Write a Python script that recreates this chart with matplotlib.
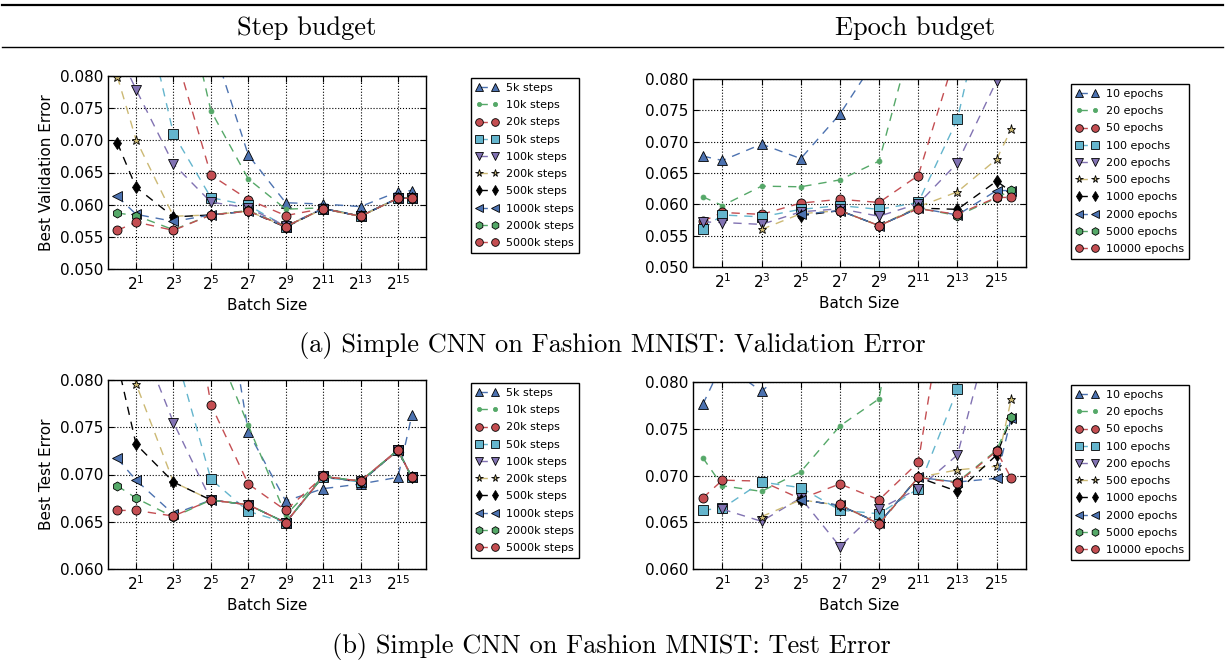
import numpy as np
import matplotlib
matplotlib.use('Agg')
import matplotlib.pyplot as plt
from matplotlib.lines import Line2D
from matplotlib.ticker import FixedLocator, LogFormatterMathtext, NullLocator, MultipleLocator, FormatStrFormatter

nan = np.nan

batch = [1, 2, 8, 32, 128, 512, 2048, 8192, 32768, 55000]

step_labels = ['5k steps', '10k steps', '20k steps', '50k steps', '100k steps',
               '200k steps', '500k steps', '1000k steps', '2000k steps', '5000k steps']
epoch_labels = ['10 epochs', '20 epochs', '50 epochs', '100 epochs', '200 epochs',
                '500 epochs', '1000 epochs', '2000 epochs', '5000 epochs', '10000 epochs']

# validation error, step budget
val_step = [
    [0.140, 0.120, 0.100, 0.0858, 0.0677, 0.0603, 0.0601, 0.0597, 0.0620, 0.0622],
    [0.125, 0.110, 0.100, 0.0746, 0.0640, 0.0593, 0.0595, 0.0582, 0.0610, 0.0611],
    [0.110, 0.095, 0.0846, 0.0646, 0.0608, 0.0583, 0.0594, 0.0582, 0.0610, 0.0610],
    [0.105, 0.096, 0.0710, 0.0611, 0.0599, 0.0566, 0.0594, 0.0583, 0.0610, 0.0611],
    [0.084, 0.0779, 0.0663, 0.0604, 0.0595, 0.0567, 0.0594, 0.0582, 0.0610, 0.0611],
    [0.0799, 0.0701, 0.0582, 0.0584, 0.0590, 0.0566, 0.0593, 0.0582, 0.0610, 0.0611],
    [0.0696, 0.0627, 0.0581, 0.0584, 0.0590, 0.0565, 0.0594, 0.0582, 0.0610, 0.0611],
    [0.0613, 0.0585, 0.0574, 0.0584, 0.0590, 0.0566, 0.0594, 0.0582, 0.0610, 0.0611],
    [0.0587, 0.0583, 0.0561, 0.0584, 0.0591, 0.0566, 0.0594, 0.0582, 0.0610, 0.0611],
    [0.0560, 0.0573, 0.0560, 0.0584, 0.0590, 0.0566, 0.0594, 0.0582, 0.0610, 0.0610],
]

# validation error, epoch budget
val_epoch = [
    [0.0677, 0.0670, 0.0696, 0.0673, 0.0744, 0.0840, 0.095, 0.105, 0.115, 0.120],
    [0.0612, 0.0598, 0.0629, 0.0628, 0.0639, 0.0669, 0.0902, 0.100, 0.110, 0.115],
    [0.0573, 0.0587, 0.0584, 0.0602, 0.0608, 0.0603, 0.0646, 0.0849, 0.095, 0.100],
    [0.0561, 0.0583, 0.0580, 0.0592, 0.0598, 0.0592, 0.0603, 0.0736, 0.101, 0.105],
    [0.0572, 0.0571, 0.0568, 0.0588, 0.0593, 0.0581, 0.0601, 0.0666, 0.0797, 0.090],
    [nan, nan, 0.0560, 0.0585, 0.0590, 0.0566, 0.0596, 0.0620, 0.0672, 0.0720],
    [nan, nan, nan, 0.0582, 0.0590, 0.0566, 0.0594, 0.0592, 0.0637, 0.0620],
    [nan, nan, nan, 0.0584, 0.0590, 0.0566, 0.0594, 0.0583, 0.0622, 0.0622],
    [nan, nan, nan, nan, 0.0590, 0.0566, 0.0594, 0.0582, 0.0610, 0.0623],
    [nan, nan, nan, nan, 0.0590, 0.0566, 0.0593, 0.0584, 0.0611, 0.0611],
]

# test error, step budget
test_step = [
    [0.140, 0.125, 0.110, 0.0984, 0.0745, 0.0672, 0.0685, 0.0690, 0.0697, 0.0763],
    [0.130, 0.115, 0.100, 0.0848, 0.0752, 0.0657, 0.0698, 0.0693, 0.0726, 0.0696],
    [0.120, 0.110, 0.101, 0.0774, 0.0690, 0.0662, 0.0698, 0.0693, 0.0725, 0.0697],
    [0.110, 0.100, 0.0837, 0.0695, 0.0661, 0.0649, 0.0697, 0.0692, 0.0726, 0.0697],
    [0.095, 0.0855, 0.0755, 0.0673, 0.0668, 0.0649, 0.0698, 0.0693, 0.0726, 0.0697],
    [0.085, 0.0796, 0.0692, 0.0673, 0.0668, 0.0649, 0.0698, 0.0693, 0.0726, 0.0697],
    [0.0819, 0.0732, 0.0692, 0.0673, 0.0668, 0.0649, 0.0698, 0.0692, 0.0726, 0.0697],
    [0.0717, 0.0694, 0.0658, 0.0673, 0.0668, 0.0649, 0.0698, 0.0692, 0.0726, 0.0697],
    [0.0688, 0.0675, 0.0655, 0.0673, 0.0668, 0.0649, 0.0698, 0.0693, 0.0726, 0.0697],
    [0.0662, 0.0662, 0.0656, 0.0673, 0.0668, 0.0649, 0.0698, 0.0693, 0.0726, 0.0697],
]

# test error, epoch budget
test_epoch = [
    [0.0776, 0.0820, 0.0790, 0.0826, 0.090, 0.095, 0.100, 0.105, 0.110, 0.115],
    [0.0719, 0.0689, 0.0683, 0.0704, 0.0753, 0.0782, 0.1016, 0.105, 0.110, 0.115],
    [0.0676, 0.0695, 0.0694, 0.0675, 0.0691, 0.0674, 0.0714, 0.0975, 0.105, 0.110],
    [0.0663, 0.0665, 0.0693, 0.0687, 0.0663, 0.0659, 0.0686, 0.0792, 0.095, 0.100],
    [nan, 0.0664, 0.0651, 0.0676, 0.0624, 0.0664, 0.0686, 0.0722, 0.0881, 0.095],
    [nan, nan, 0.0656, 0.0674, 0.0668, 0.0649, 0.0698, 0.0706, 0.0710, 0.0782],
    [nan, nan, nan, 0.0674, 0.0668, 0.0649, 0.0698, 0.0683, 0.0722, 0.0762],
    [nan, nan, nan, 0.0674, 0.0668, 0.0649, 0.0698, 0.0693, 0.0697, 0.0762],
    [nan, nan, nan, nan, 0.0669, 0.0648, 0.0698, 0.0693, 0.0727, 0.0763],
    [nan, nan, nan, nan, 0.0669, 0.0648, 0.0698, 0.0692, 0.0726, 0.0697],
]

colors = ['#4C72B0', '#55A868', '#C44E52', '#64B5CD', '#8172B2',
          '#CCB974', 'k', '#4C72B0', '#55A868', '#C44E52']
markers = ['^', '.', 'o', 's', 'v', '*', 'd', '<', 'h', 'o']

plt.rcParams['font.family'] = 'DejaVu Sans'
plt.rcParams['font.size'] = 11
plt.rcParams['xtick.direction'] = 'in'
plt.rcParams['ytick.direction'] = 'in'
plt.rcParams['xtick.top'] = True
plt.rcParams['ytick.right'] = True

fig = plt.figure(figsize=(12.25, 6.62), dpi=100)


def panel(rect, rows, labels, ylim, ylabel, leg_xy):
    ax = fig.add_axes(rect)
    for row, lab, c, m in zip(rows, labels, colors, markers):
        mec = c if m == '.' else 'k'
        ax.plot(batch, row, ls='--', dashes=(6, 5), lw=1, color=c, marker=m,
                mfc=c, mec=mec, mew=0.6, ms=6.5 if m != '.' else 7, label=lab)
    ax.set_xscale('log', base=2)
    ax.set_xlim(2 ** -0.5, 2 ** 16.5)
    ax.set_ylim(*ylim)
    ax.xaxis.set_major_locator(FixedLocator([2 ** k for k in range(1, 16, 2)]))
    ax.xaxis.set_major_formatter(LogFormatterMathtext(base=2))
    ax.xaxis.set_minor_locator(NullLocator())
    ax.yaxis.set_major_locator(MultipleLocator(0.005))
    ax.yaxis.set_major_formatter(FormatStrFormatter('%.3f'))
    ax.tick_params(labelsize=11, length=4)
    ax.grid(True, color='k', ls=':', lw=0.8)
    ax.set_xlabel('Batch Size', fontsize=11)
    if ylabel:
        ax.set_ylabel(ylabel, fontsize=11)
    for sp in ax.spines.values():
        sp.set_linewidth(1)
    ax.legend(loc='upper left', bbox_to_anchor=leg_xy, bbox_transform=fig.transFigure,
              borderaxespad=0, numpoints=2, fontsize=8, labelspacing=0.65,
              handlelength=2.0, handletextpad=0.7, markerscale=0.85, borderpad=0.45,
              fancybox=False, edgecolor='k', framealpha=1)
    return ax


W, H = 1225.0, 662.0


def rect(l, r, t, b):
    return [l / W, 1 - b / H, (r - l) / W, (b - t) / H]


panel(rect(108, 426, 76, 269), val_step, step_labels, (0.05, 0.08),
      'Best Validation Error', (471 / W, 1 - 78 / H))
panel(rect(693, 1026, 79, 267), val_epoch, epoch_labels, (0.05, 0.08),
      None, (1071 / W, 1 - 84 / H))
panel(rect(108, 426, 380, 569), test_step, step_labels, (0.06, 0.08),
      'Best Test Error', (471 / W, 1 - 383 / H))
panel(rect(693, 1026, 382, 569), test_epoch, epoch_labels, (0.06, 0.08),
      None, (1071 / W, 1 - 385 / H))

# table rules and headings
fig.add_artist(Line2D([2 / W, 1 - 2 / W], [1 - 5 / H] * 2, color='k', lw=1.6))
fig.add_artist(Line2D([2 / W, 1 - 2 / W], [1 - 47 / H] * 2, color='k', lw=1.0))
fig.text(307 / W, 1 - 28 / H, 'Step budget', ha='center', va='center',
         family='cmr10', fontsize=19)
fig.text(915 / W, 1 - 28 / H, 'Epoch budget', ha='center', va='center',
         family='cmr10', fontsize=19)
fig.text(612 / W, 1 - 345 / H, '(a) Simple CNN on Fashion MNIST: Validation Error',
         ha='center', va='center', family='cmr10', fontsize=19)
fig.text(611 / W, 1 - 647 / H, '(b) Simple CNN on Fashion MNIST: Test Error',
         ha='center', va='center', family='cmr10', fontsize=19)

fig.savefig('out.png', dpi=100)
